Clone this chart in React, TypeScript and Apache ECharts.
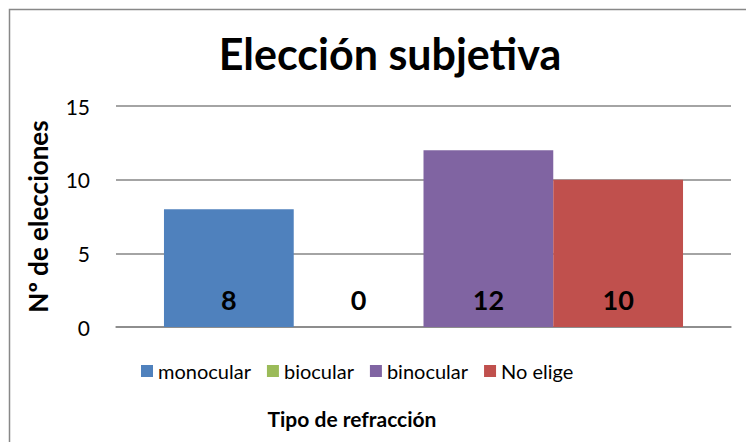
import React, { useEffect, useRef } from "react";
import * as echarts from "echarts";

const categories = ["Tipo"];
const seriesNames = ["monocular", "biocular", "binocular", "No elige"];
const seriesValues = [8, 0, 12, 10];
const seriesColors = ["#4F81BD", "#9BBB59", "#8064A2", "#C0504D"];
const yTicks = { min: 0, max: 15, interval: 5 };

const FONT = "Lato, 'Open Sans', sans-serif";

export default function App() {
  const ref = useRef<HTMLDivElement>(null);
  useEffect(() => {
    if (!ref.current) return;
    const chart = echarts.init(ref.current, undefined, { renderer: "svg" });
    chart.setOption({
      animation: false,
      textStyle: { fontFamily: FONT },
      title: [
        {
          text: "Elección subjetiva",
          left: 385,
          top: 27,
          textAlign: "center",
          textStyle: { fontSize: 43, fontWeight: "bold", color: "#000", fontFamily: FONT },
        },
        {
          text: "Tipo de refracción",
          left: 347,
          top: 403,
          textAlign: "center",
          textStyle: { fontSize: 21, fontWeight: "bold", color: "#000", fontFamily: FONT },
        },
      ],
      graphic: [
        {
          type: "rect",
          shape: { x: 9.5, y: 9.5, width: 800, height: 500 },
          style: { fill: "none", stroke: "#888888", lineWidth: 1.5 },
          silent: true,
        },
      ],
      legend: {
        left: 136,
        top: 356,
        itemWidth: 12,
        itemHeight: 12,
        itemGap: 16,
        icon: "rect",
        textStyle: { fontSize: 20, color: "#000", fontFamily: FONT },
        data: seriesNames,
      },
      grid: { left: 116, right: 15, top: 106, bottom: 115 },
      xAxis: {
        type: "category",
        data: categories,
        axisLabel: { show: false },
        axisTick: { show: false },
        axisLine: { show: true, lineStyle: { color: "#868686", width: 1.5 } },
      },
      yAxis: {
        type: "value",
        min: yTicks.min,
        max: yTicks.max,
        interval: yTicks.interval,
        name: "Nº de elecciones",
        nameLocation: "middle",
        nameGap: 65,
        nameTextStyle: { fontSize: 26, fontWeight: "bold", color: "#000", fontFamily: FONT },
        axisLabel: { fontSize: 21, color: "#000", margin: 26, fontFamily: FONT },
        axisLine: { show: false },
        axisTick: { show: false },
        splitLine: { lineStyle: { color: "#868686", width: 1.5 } },
      },
      series: seriesNames.map((name, i) => ({
        name,
        type: "bar",
        data: [seriesValues[i]],
        barGap: "0%",
        barCategoryGap: "15.6%",
        itemStyle: { color: seriesColors[i] },
        label: {
          show: true,
          position: "insideBottom",
          distance: 14,
          fontSize: 27,
          fontWeight: "bold",
          color: "#000",
          fontFamily: FONT,
        },
      })),
    });
    return () => chart.dispose();
  }, []);
  return (
    <div
      ref={ref}
      style={{ position: "absolute", left: 0, top: 0, width: 746, height: 442, background: "#fff" }}
    />
  );
}
